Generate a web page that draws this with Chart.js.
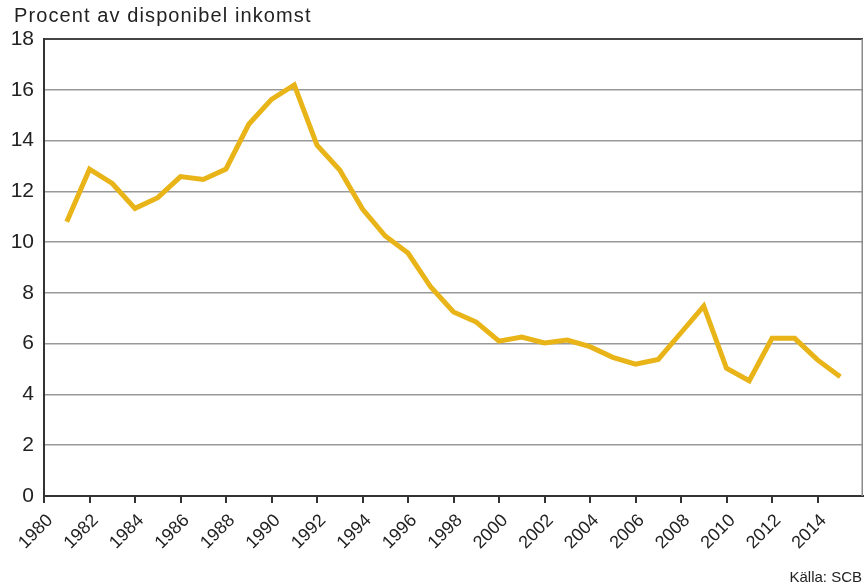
<!DOCTYPE html>
<html><head><meta charset="utf-8">
<script src="https://cdn.jsdelivr.net/npm/chart.js@4/dist/chart.umd.min.js"></script>
<style>
html,body{margin:0;padding:0;background:#fff;}
#wrap{position:relative;width:864px;height:588px;}
#title{position:absolute;left:14px;top:4px;font-family:"Liberation Sans",Arial,sans-serif;font-size:20px;letter-spacing:1.1px;color:#222;white-space:nowrap;}
#source{position:absolute;right:2px;top:568px;font-family:"Liberation Sans",Arial,sans-serif;font-size:15px;color:#222;white-space:nowrap;}
</style></head>
<body>
<div id="wrap">
<canvas id="c" width="864" height="588"></canvas>
<div id="title">Procent av disponibel inkomst</div>
<div id="source">Källa: SCB</div>
</div>
<script>
const years = [1981,1982,1983,1984,1985,1986,1987,1988,1989,1990,1991,1992,1993,1994,1995,1996,1997,1998,1999,2000,2001,2002,2003,2004,2005,2006,2007,2008,2009,2010,2011,2012,2013,2014,2015];
const values = [10.80,12.87,12.31,11.33,11.75,12.58,12.47,12.88,14.64,15.62,16.19,13.82,12.84,11.30,10.24,9.57,8.23,7.25,6.85,6.10,6.26,6.03,6.14,5.88,5.46,5.19,5.38,6.43,7.48,5.03,4.54,6.21,6.21,5.36,4.70];
const xTickYears = [1980,1982,1984,1986,1988,1990,1992,1994,1996,1998,2000,2002,2004,2006,2008,2010,2012,2014];
const yTicks = [0,2,4,6,8,10,12,14,16,18];

const frame = {
  id:'frame',
  afterDraw(chart){
    const a = chart.chartArea, ctx = chart.ctx;
    ctx.save();
    ctx.strokeStyle = '#8a8a8a'; ctx.lineWidth = 1.5;
    ctx.beginPath(); ctx.moveTo(a.right-0.75, a.top); ctx.lineTo(a.right-0.75, a.bottom); ctx.stroke();
    ctx.restore();
  }
};

new Chart(document.getElementById('c'), {
  type:'line',
  data:{ datasets:[{
    data: years.map((y,i)=>({x:y,y:values[i]})),
    borderColor:'#E8B418', borderWidth:5, pointRadius:0, tension:0, fill:false,
    borderJoinStyle:'miter', borderCapStyle:'butt'
  }]},
  options:{
    responsive:false, animation:false, devicePixelRatio:1,
    layout:{padding:{top:39,right:1,left:0,bottom:0}},
    plugins:{legend:{display:false},tooltip:{enabled:false}},
    scales:{
      x:{
        type:'linear', min:1980, max:2016,
        afterBuildTicks(s){ s.ticks = xTickYears.map(v=>({value:v})); },
        ticks:{ minRotation:45, maxRotation:45, autoSkip:false, padding:7, labelOffset:6,
          callback:v=>String(v),
          font:{family:'"Liberation Sans", Arial, sans-serif', size:18}, color:'#222' },
        grid:{ drawOnChartArea:false, drawTicks:true, tickLength:7, color:'#333', lineWidth:2 },
        border:{ display:true, color:'#333', width:2 },
        afterFit(s){ s.height = 92; }
      },
      y:{
        min:0, max:18,
        afterBuildTicks(s){ s.ticks = yTicks.map(v=>({value:v})); },
        ticks:{ padding:10, font:{family:'"Liberation Sans", Arial, sans-serif', size:21}, color:'#222' },
        grid:{ drawTicks:false, color:(c)=> c.tick && c.tick.value===18 ? '#444' : '#999', lineWidth:(c)=> c.tick && c.tick.value===18 ? 2 : 1.5 },
        border:{ display:true, color:'#333', width:2 },
        afterFit(s){ s.width = 44; }
      }
    }
  },
  plugins:[frame]
});
</script>
</body></html>
